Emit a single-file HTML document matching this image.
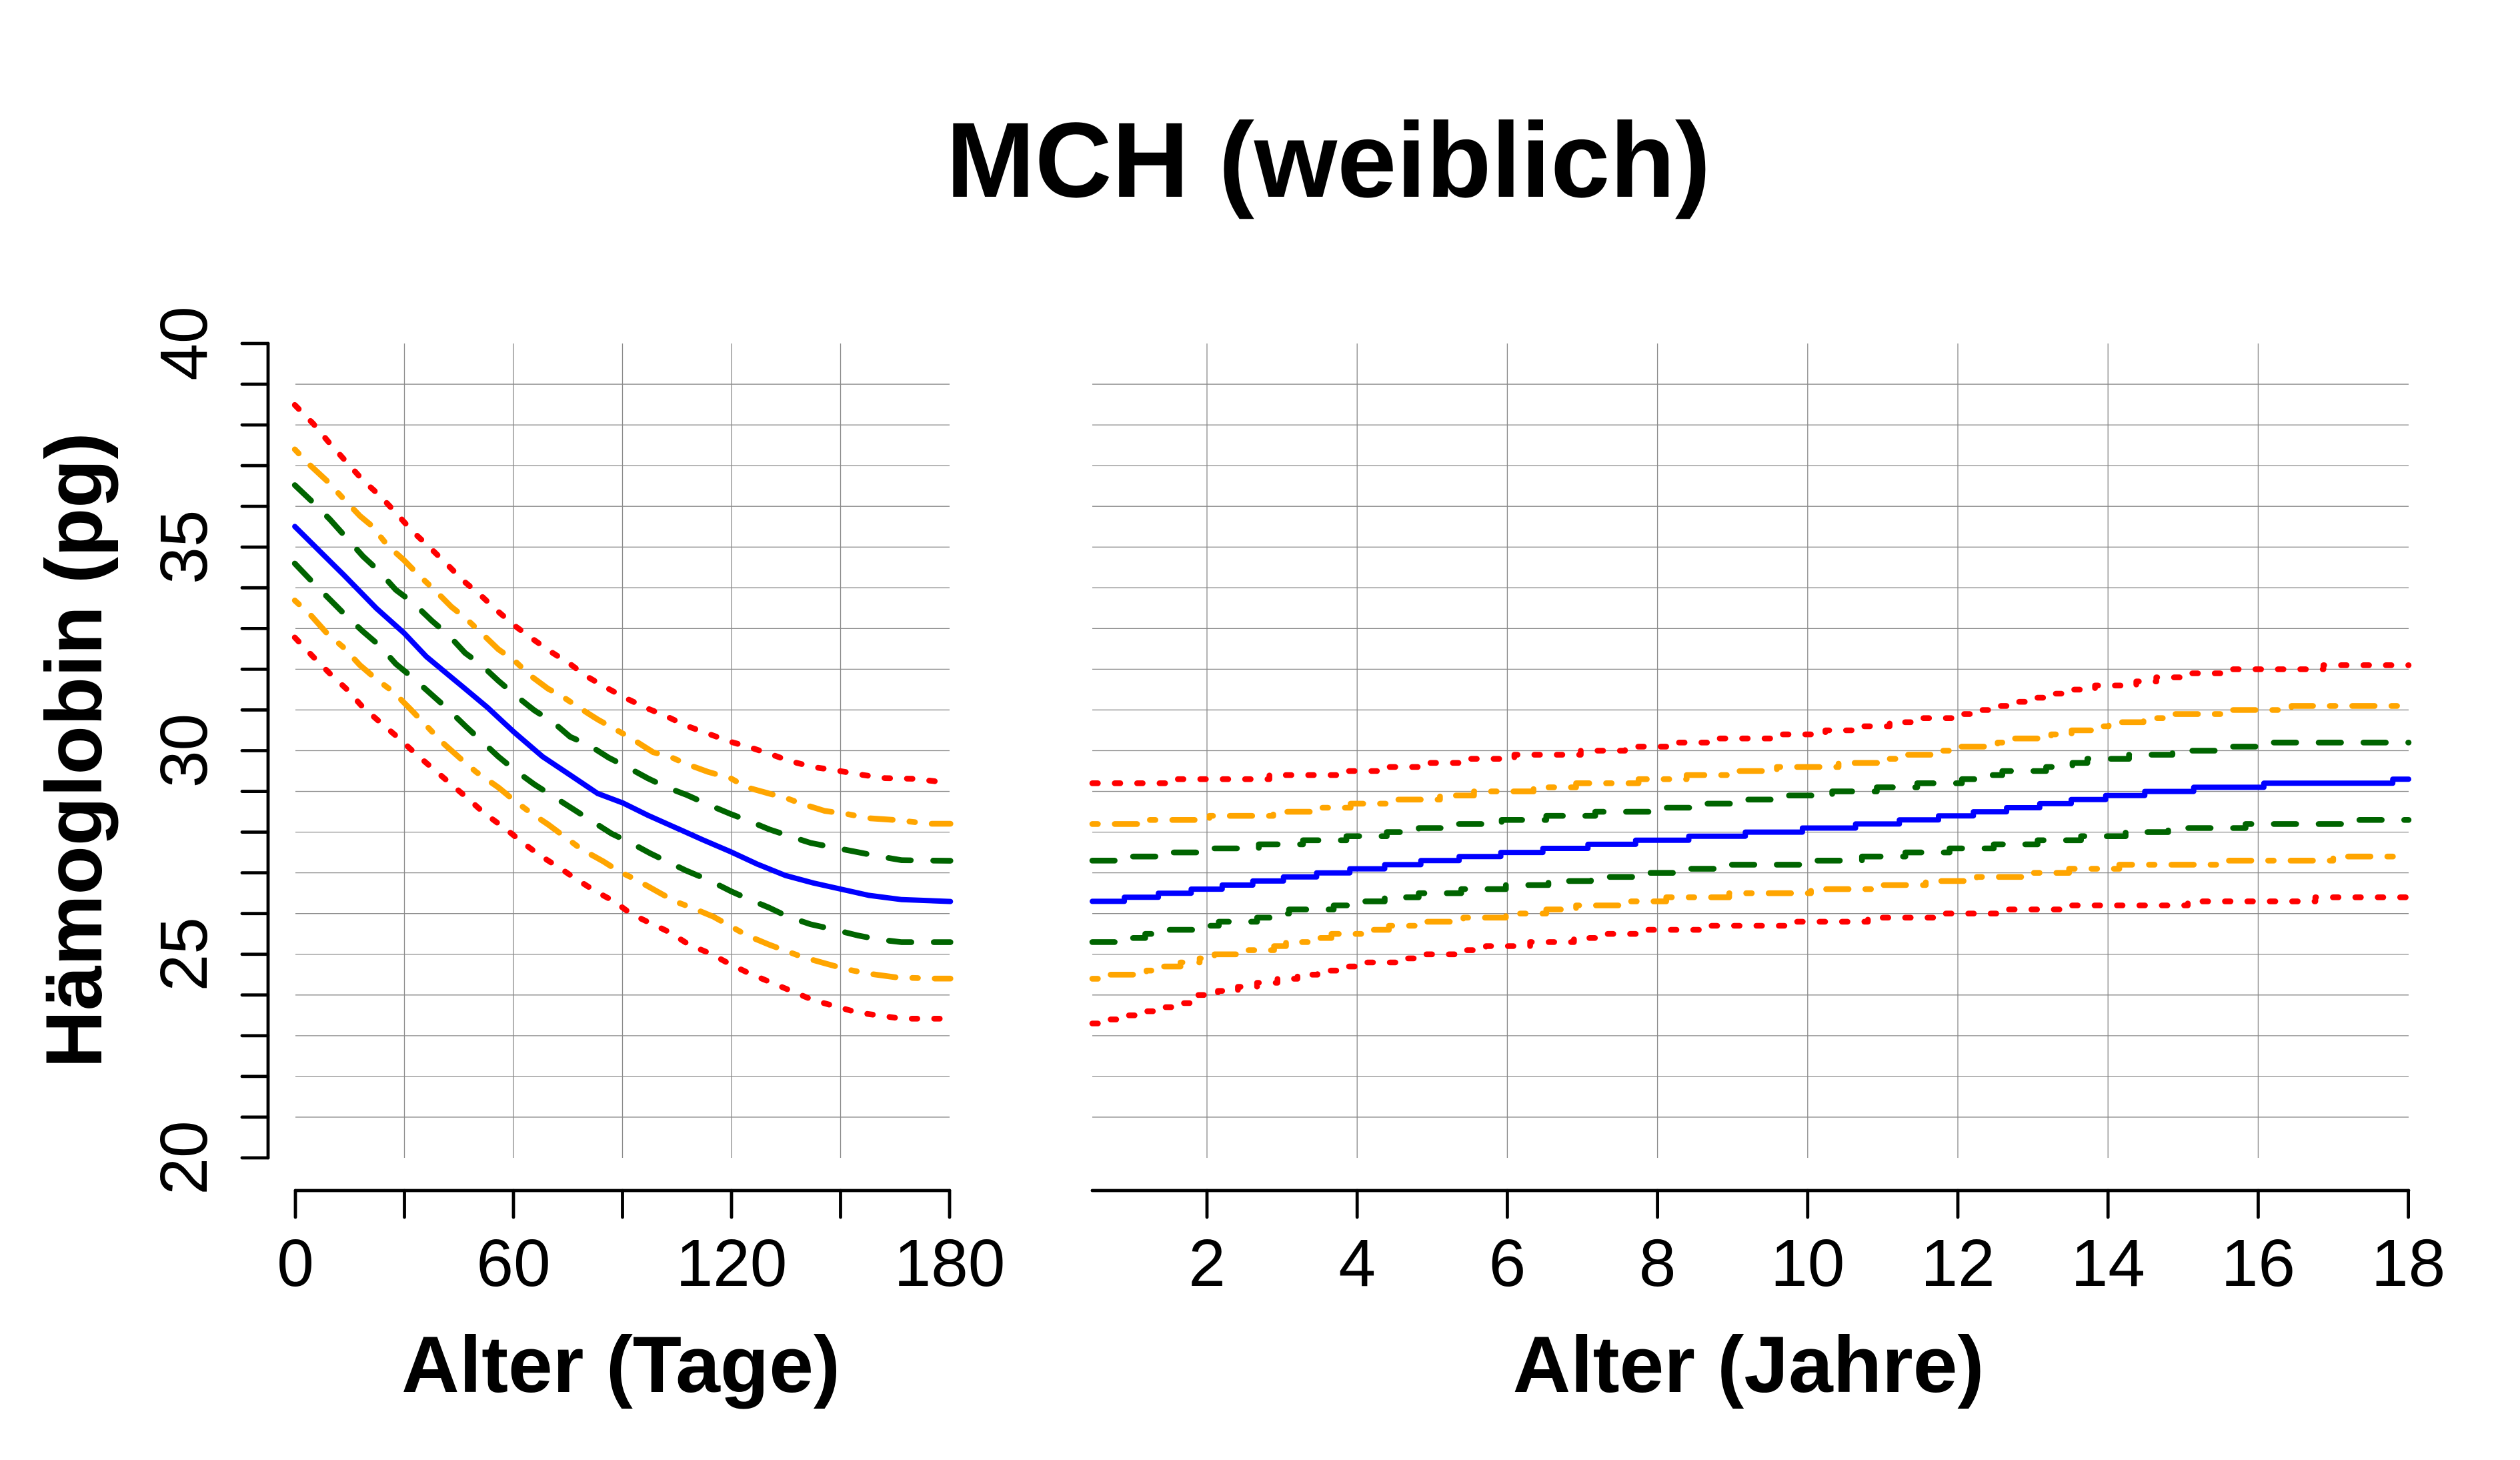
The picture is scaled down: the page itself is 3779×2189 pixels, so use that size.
<!DOCTYPE html>
<html><head><meta charset="utf-8"><style>
html,body{margin:0;padding:0;background:#fff;}
svg{display:block;}
text{font-family:"Liberation Sans",Arial,sans-serif;fill:#000;}
</style></head><body>
<svg width="3779" height="2189" viewBox="0 0 3779 2189" xmlns="http://www.w3.org/2000/svg">
<rect width="3779" height="2189" fill="#fff"/>
<!-- Title -->
<text x="1992" y="295" font-size="160" font-weight="bold" text-anchor="middle">MCH (weiblich)</text>

<!-- Grid -->
<g stroke="#8a8a8a" stroke-width="1.3" fill="none">
<path d="M443,576.05H1424M443,637.1H1424M443,698.15H1424M443,759.2H1424M443,820.25H1424M443,881.3H1424M443,942.35H1424M443,1003.4H1424M443,1064.45H1424M443,1125.5H1424M443,1186.55H1424M443,1247.6H1424M443,1308.65H1424M443,1369.7H1424M443,1430.75H1424M443,1491.8H1424M443,1552.85H1424M443,1613.9H1424M443,1674.95H1424"/>
<path d="M606.5,515V1736M770,515V1736M933.5,515V1736M1097,515V1736M1260.5,515V1736"/>
<path d="M1638,576.05H3612M1638,637.1H3612M1638,698.15H3612M1638,759.2H3612M1638,820.25H3612M1638,881.3H3612M1638,942.35H3612M1638,1003.4H3612M1638,1064.45H3612M1638,1125.5H3612M1638,1186.55H3612M1638,1247.6H3612M1638,1308.65H3612M1638,1369.7H3612M1638,1430.75H3612M1638,1491.8H3612M1638,1552.85H3612M1638,1613.9H3612M1638,1674.95H3612"/>
<path d="M1810,515V1736M2035.2,515V1736M2260.4,515V1736M2485.6,515V1736M2710.8,515V1736M2936,515V1736M3161.2,515V1736M3386.4,515V1736"/>
</g>

<!-- Left panel curves -->
<g fill="none" stroke-width="8.6" stroke-linecap="round" stroke-linejoin="round">
<polyline stroke="#FF0000" stroke-dasharray="8.4 25.2" points="442.1,607.2 469.4,634.9 494.3,664.5 519.2,692.3 544.1,720.0 570.6,744.1 593.8,769.0 618.7,796.8 643.5,819.9 670.1,845.8 694.9,870.8 722.3,893.9 747.2,917.0 772.0,938.3 796.9,956.7 825.9,977.1 855.0,995.6 879.8,1014.1 908.8,1030.7 937.9,1046.5 971.0,1062.2 1000.0,1074.2 1029.1,1088.1 1062.2,1100.1 1095.4,1112.1 1124.4,1120.4 1157.6,1131.5 1186.6,1141.7 1219.7,1150.0 1257.0,1155.6 1294.4,1162.0 1327.5,1166.7 1369.0,1167.6 1402.1,1171.3 1425.3,1171.3"/>
<polyline stroke="#FFA500" stroke-dasharray="8.4 25.2 33.6 25.2" points="442.1,673.8 465.3,697.8 490.2,720.9 513.4,745.9 539.9,773.7 556.5,787.5 581.4,818.0 606.2,840.2 627.0,861.5 651.8,884.6 676.7,909.6 697.4,926.2 722.3,949.4 747.2,973.4 772.0,991.0 796.9,1014.1 821.8,1032.6 842.5,1043.7 867.4,1060.3 896.4,1078.8 921.3,1092.7 946.1,1106.6 979.3,1127.8 1004.2,1134.3 1029.1,1145.4 1062.2,1157.4 1095.4,1166.7 1120.2,1180.5 1153.4,1189.8 1178.3,1196.3 1203.2,1205.5 1236.3,1215.7 1269.5,1220.3 1302.6,1226.8 1344.1,1229.5 1393.8,1235.1 1425.3,1235.1"/>
<polyline stroke="#006400" stroke-dasharray="33.6 33.6" points="442.1,727.4 469.4,753.3 494.3,778.3 519.2,806.0 544.1,833.8 568.9,856.9 593.8,884.6 618.7,903.1 647.7,930.9 672.6,952.1 697.4,978.9 722.3,997.4 747.2,1020.6 772.0,1041.8 801.1,1064.9 830.1,1083.4 855.0,1104.7 884.0,1117.7 913.0,1136.1 942.0,1150.9 971.0,1166.7 1000.0,1180.5 1029.1,1191.6 1062.2,1206.4 1095.4,1220.3 1124.4,1231.4 1153.4,1243.4 1186.6,1254.5 1215.6,1263.8 1252.9,1271.2 1286.1,1277.6 1319.2,1284.1 1352.4,1289.7 1425.3,1290.6"/>
<polyline stroke="#0000FF" stroke-width="8" points="442.1,789.4 515.0,861.5 564.8,912.4 606.2,949.4 639.4,984.5 697.4,1032.6 730.6,1060.3 770.4,1097.3 813.5,1134.3 855.0,1162.0 896.4,1189.8 933.7,1203.7 971.0,1222.1 1012.5,1240.6 1053.9,1259.1 1097.0,1277.6 1136.8,1296.1 1178.3,1312.8 1219.7,1323.9 1261.2,1333.1 1302.6,1342.4 1352.4,1348.8 1425.3,1351.6"/>
<polyline stroke="#006400" stroke-dasharray="33.6 33.6" points="442.1,844.9 469.4,873.5 494.3,898.5 519.2,923.5 544.1,946.6 568.9,967.8 593.8,995.6 618.7,1015.9 647.7,1041.8 672.6,1064.0 697.4,1088.1 722.3,1111.2 747.2,1134.3 772.0,1154.6 801.1,1175.9 830.1,1194.4 859.1,1212.9 888.1,1231.4 917.1,1249.9 946.1,1263.8 975.2,1279.5 1000.0,1291.5 1029.1,1305.4 1062.2,1319.2 1095.4,1335.9 1124.4,1348.8 1153.4,1360.9 1182.4,1374.7 1215.6,1385.8 1248.7,1393.2 1286.1,1402.5 1319.2,1408.9 1352.4,1412.6 1425.3,1412.6"/>
<polyline stroke="#FFA500" stroke-dasharray="8.4 25.2 33.6 25.2" points="442.1,900.3 465.3,921.6 490.2,949.4 515.0,970.6 539.9,997.4 564.8,1018.7 589.7,1037.2 614.5,1062.2 639.4,1088.1 664.3,1114.0 689.1,1136.1 714.0,1157.4 747.2,1180.5 772.0,1200.9 796.9,1219.4 821.8,1236.0 846.7,1254.5 871.5,1273.0 904.7,1291.5 929.6,1307.2 954.4,1319.2 987.6,1337.7 1012.5,1351.6 1037.3,1360.9 1070.5,1374.7 1095.4,1388.6 1120.2,1402.5 1153.4,1416.3 1178.3,1425.6 1203.2,1434.8 1236.3,1444.1 1269.5,1453.3 1302.6,1459.8 1344.1,1465.4 1402.1,1467.2 1425.3,1467.2"/>
<polyline stroke="#FF0000" stroke-dasharray="8.4 25.2" points="442.1,955.8 469.4,984.5 494.3,1009.5 519.2,1032.6 544.1,1060.3 570.6,1083.4 597.9,1106.6 622.8,1129.7 651.8,1154.6 676.7,1175.9 701.6,1197.2 726.4,1219.4 755.5,1240.6 784.5,1263.8 809.4,1282.3 838.4,1300.7 863.2,1317.4 892.3,1335.9 921.3,1351.6 946.1,1370.1 975.2,1384.0 1004.2,1397.8 1033.2,1416.3 1066.4,1430.2 1095.4,1445.9 1124.4,1459.8 1153.4,1471.8 1186.6,1485.7 1219.7,1499.6 1252.9,1508.8 1286.1,1518.1 1319.2,1522.7 1352.4,1527.3 1425.3,1527.3"/>
</g>

<!-- Right panel curves -->
<g fill="none" stroke-width="8.6" stroke-linecap="round" stroke-linejoin="round">
<path stroke="#FF0000" stroke-dasharray="8.4 25.2" d="M1638,1174.3 H1765.9 V1168.2 H1903.6 V1162.1 H2005.7 V1156.0 H2072.0 V1149.9 H2138.3 V1143.8 H2204.0 V1137.7 H2271.0 V1131.6 H2370.5 V1125.5 H2436.8 V1119.4 H2502.5 V1113.3 H2570.1 V1107.2 H2672.3 V1101.1 H2737.4 V1095.0 H2784.6 V1088.9 H2833.7 V1082.8 H2878.3 V1076.7 H2928.7 V1070.6 H2958.7 V1064.5 H2988.6 V1058.4 H3018.6 V1052.2 H3048.6 V1046.1 H3079.2 V1040.0 H3110.5 V1033.9 H3141.7 V1027.8 H3203.6 V1021.7 H3233.6 V1015.6 H3283.3 V1009.5 H3347.1 V1003.4 H3484.2 V997.3 H3612"/>
<path stroke="#FFA500" stroke-dasharray="8.4 25.2 33.6 25.2" d="M1638,1235.4 H1722.5 V1229.3 H1813.7 V1223.2 H1909.4 V1217.1 H1971.2 V1211.0 H2025.4 V1204.9 H2090.5 V1198.8 H2159.4 V1192.7 H2210.4 V1186.6 H2299.7 V1180.4 H2363.5 V1174.3 H2457.2 V1168.2 H2529.3 V1162.1 H2599.5 V1156.0 H2664.6 V1149.9 H2757.1 V1143.8 H2818.4 V1137.7 H2843.2 V1131.6 H2907.0 V1125.5 H2932.5 V1119.4 H2995.7 V1113.3 H3019.9 V1107.2 H3076.0 V1101.1 H3106.6 V1095.0 H3136.6 V1088.9 H3162.1 V1082.8 H3214.4 V1076.7 H3250.1 V1070.6 H3342.6 V1064.5 H3436.4 V1058.4 H3612"/>
<path stroke="#006400" stroke-dasharray="33.6 33.6" d="M1638,1290.3 H1689.3 V1284.2 H1756.3 V1278.1 H1821.3 V1272.0 H1887.7 V1265.9 H1954.0 V1259.8 H2019.1 V1253.7 H2079.6 V1247.6 H2127.5 V1241.5 H2184.9 V1235.4 H2251.9 V1229.3 H2318.8 V1223.2 H2392.2 V1217.1 H2478.3 V1211.0 H2547.2 V1204.9 H2612.2 V1198.8 H2681.2 V1192.7 H2747.6 V1186.6 H2814.5 V1180.4 H2875.1 V1174.3 H2942.1 V1168.2 H2980.4 V1162.1 H3002.7 V1156.0 H3068.4 V1149.9 H3107.9 V1143.8 H3130.2 V1137.7 H3192.7 V1131.6 H3257.8 V1125.5 H3324.8 V1119.4 H3398.1 V1113.3 H3612"/>
<path stroke="#0000FF" stroke-width="8" d="M1638,1351.4 H1686.1 V1345.3 H1737.1 V1339.2 H1786.3 V1333.1 H1832.8 V1327.0 H1878.7 V1320.9 H1924.7 V1314.8 H1974.4 V1308.7 H2024.2 V1302.6 H2076.5 V1296.4 H2130.7 V1290.3 H2188.1 V1284.2 H2250.6 V1278.1 H2313.7 V1272.0 H2381.3 V1265.9 H2452.8 V1259.8 H2532.5 V1253.7 H2617.3 V1247.6 H2702.9 V1241.5 H2782.6 V1235.4 H2848.3 V1229.3 H2907.0 V1223.2 H2959.3 V1217.1 H3009.1 V1211.0 H3058.8 V1204.9 H3106.0 V1198.8 H3157.7 V1192.7 H3216.3 V1186.6 H3289.7 V1180.4 H3394.9 V1174.3 H3588.2 V1168.2 H3612"/>
<path stroke="#006400" stroke-dasharray="33.6 33.6" d="M1638,1412.4 H1693.8 V1406.3 H1717.4 V1400.2 H1748.0 V1394.1 H1795.8 V1388.0 H1827.7 V1381.9 H1885.1 V1375.8 H1907.4 V1369.7 H1933.0 V1363.6 H2000.0 V1357.5 H2035.0 V1351.4 H2076.5 V1345.3 H2127.5 V1339.2 H2191.3 V1333.1 H2258.2 V1327.0 H2322.0 V1320.9 H2385.8 V1314.8 H2452.8 V1308.7 H2522.9 V1302.6 H2586.7 V1296.4 H2701.6 V1290.3 H2792.2 V1284.2 H2857.3 V1278.1 H2923.6 V1272.0 H2989.9 V1265.9 H3055.6 V1259.8 H3120.7 V1253.7 H3187.6 V1247.6 H3251.4 V1241.5 H3367.5 V1235.4 H3528.9 V1229.3 H3612"/>
<path stroke="#FFA500" stroke-dasharray="8.4 25.2 33.6 25.2" d="M1638,1467.4 H1661.9 V1461.3 H1719.3 V1455.2 H1744.8 V1449.1 H1770.3 V1443.0 H1799.0 V1436.9 H1821.3 V1430.8 H1866.0 V1424.6 H1910.6 V1418.5 H1928.5 V1412.4 H1966.8 V1406.3 H1996.7 V1400.2 H2054.1 V1394.1 H2082.8 V1388.0 H2140.2 V1381.9 H2194.5 V1375.8 H2258.2 V1369.7 H2318.8 V1363.6 H2363.5 V1357.5 H2436.8 V1351.4 H2498.7 V1345.3 H2593.1 V1339.2 H2715.7 V1333.1 H2806.2 V1327.0 H2887.9 V1320.9 H2964.4 V1314.8 H3031.4 V1308.7 H3102.8 V1302.6 H3178.1 V1296.4 H3334.3 V1290.3 H3498.9 V1284.2 H3612"/>
<path stroke="#FF0000" stroke-dasharray="8.4 25.2" d="M1638,1534.5 H1652.3 V1528.4 H1681.0 V1522.3 H1709.7 V1516.2 H1738.4 V1510.1 H1767.1 V1504.0 H1797.1 V1491.8 H1826.4 V1485.7 H1856.4 V1479.6 H1885.1 V1473.5 H1915.7 V1467.4 H1945.7 V1461.3 H1975.7 V1455.2 H2006.3 V1449.1 H2038.2 V1443.0 H2103.2 V1436.9 H2133.9 V1430.8 H2197.6 V1424.6 H2228.3 V1418.5 H2294.6 V1412.4 H2360.3 V1406.3 H2392.2 V1400.2 H2459.1 V1394.1 H2559.9 V1388.0 H2680.6 V1381.9 H2801.1 V1375.8 H2901.9 V1369.7 H3002.7 V1363.6 H3104.7 V1357.5 H3280.8 V1351.4 H3472.1 V1345.3 H3612"/>
</g>

<!-- Axes -->
<g stroke="#000" stroke-width="4.8" stroke-linecap="round" fill="none">
<path d="M402,515V1736"/>
<path d="M363,515H402M363,576.05H402M363,637.1H402M363,698.15H402M363,759.2H402M363,820.25H402M363,881.3H402M363,942.35H402M363,1003.4H402M363,1064.45H402M363,1125.5H402M363,1186.55H402M363,1247.6H402M363,1308.65H402M363,1369.7H402M363,1430.75H402M363,1491.8H402M363,1552.85H402M363,1613.9H402M363,1674.95H402M363,1736H402"/>
<path d="M443,1785H1424"/>
<path d="M443,1785V1825M606.5,1785V1825M770,1785V1825M933.5,1785V1825M1097,1785V1825M1260.5,1785V1825M1424,1785V1825"/>
<path d="M1638,1785H3612"/>
<path d="M1810,1785V1825M2035.2,1785V1825M2260.4,1785V1825M2485.6,1785V1825M2710.8,1785V1825M2936,1785V1825M3161.2,1785V1825M3386.4,1785V1825M3611.6,1785V1825"/>
</g>

<!-- Y tick labels -->
<g font-size="100" text-anchor="middle">
<text transform="translate(310,1736) rotate(-90)">20</text>
<text transform="translate(310,1430.75) rotate(-90)">25</text>
<text transform="translate(310,1125.5) rotate(-90)">30</text>
<text transform="translate(310,820.25) rotate(-90)">35</text>
<text transform="translate(310,515) rotate(-90)">40</text>
</g>

<!-- X tick labels -->
<g font-size="100" text-anchor="middle">
<text x="443" y="1928">0</text>
<text x="770" y="1928">60</text>
<text x="1097" y="1928">120</text>
<text x="1424" y="1928">180</text>
<text x="1810" y="1928">2</text>
<text x="2035.2" y="1928">4</text>
<text x="2260.4" y="1928">6</text>
<text x="2485.6" y="1928">8</text>
<text x="2710.8" y="1928">10</text>
<text x="2936" y="1928">12</text>
<text x="3161.2" y="1928">14</text>
<text x="3386.4" y="1928">16</text>
<text x="3611.6" y="1928">18</text>
</g>

<!-- Axis titles -->
<g font-size="120" font-weight="bold" text-anchor="middle">
<text x="931" y="2087">Alter (Tage)</text>
<text x="2622" y="2087">Alter (Jahre)</text>
<text transform="translate(152,1125) rotate(-90)">Hämoglobin (pg)</text>
</g>
</svg>
</body></html>
